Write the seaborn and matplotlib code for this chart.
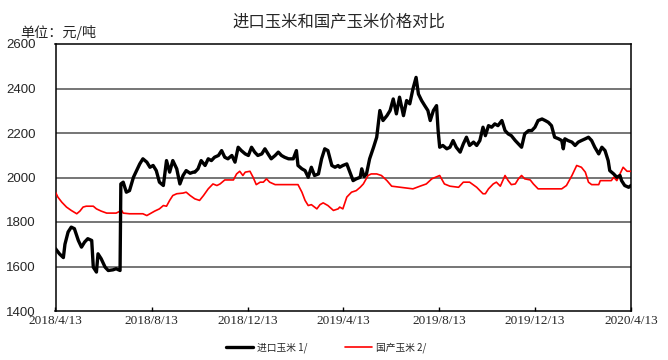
import matplotlib
matplotlib.use("Agg")
import matplotlib.pyplot as plt
import seaborn as sns
import pandas as pd

# ---------------- data ----------------
title = "进口玉米和国产玉米价格对比"
unit_label = "单位：元/吨"
series_names = ["进口玉米 1/", "国产玉米 2/"]

import_dates = [
    "2018-04-13", "2018-04-18", "2018-04-23", "2018-04-25", "2018-04-29", "2018-05-03", "2018-05-07",
    "2018-05-12", "2018-05-16", "2018-05-20", "2018-05-24", "2018-05-29", "2018-05-31", "2018-06-04",
    "2018-06-06", "2018-06-10", "2018-06-15", "2018-06-19", "2018-06-25", "2018-06-29", "2018-07-04",
    "2018-07-05", "2018-07-08", "2018-07-12", "2018-07-16", "2018-07-21", "2018-07-25", "2018-07-29",
    "2018-08-02", "2018-08-07", "2018-08-11", "2018-08-15", "2018-08-19", "2018-08-23", "2018-08-28",
    "2018-09-01", "2018-09-05", "2018-09-09", "2018-09-14", "2018-09-18", "2018-09-22", "2018-09-26",
    "2018-10-01", "2018-10-05",
    "2018-10-07", "2018-10-11", "2018-10-15", "2018-10-20", "2018-10-24", "2018-10-28", "2018-11-01",
    "2018-11-06", "2018-11-10", "2018-11-14", "2018-11-18", "2018-11-23", "2018-11-27", "2018-12-01",
    "2018-12-05", "2018-12-10", "2018-12-14", "2018-12-18", "2018-12-22", "2018-12-26", "2018-12-31",
    "2019-01-04", "2019-01-08", "2019-01-12", "2019-01-17", "2019-01-21", "2019-01-25", "2019-01-29",
    "2019-02-03", "2019-02-09", "2019-02-13", "2019-02-15", "2019-02-20", "2019-02-24", "2019-02-28",
    "2019-03-04", "2019-03-08", "2019-03-13", "2019-03-17", "2019-03-21", "2019-03-25", "2019-03-30",
    "2019-04-03", "2019-04-07",
    "2019-04-09", "2019-04-13", "2019-04-18", "2019-04-22", "2019-04-26", "2019-04-30", "2019-05-05",
    "2019-05-07", "2019-05-10", "2019-05-13", "2019-05-17", "2019-05-22", "2019-05-26", "2019-05-30",
    "2019-06-03", "2019-06-08", "2019-06-12", "2019-06-16", "2019-06-20", "2019-06-24", "2019-06-29",
    "2019-07-03", "2019-07-07", "2019-07-11", "2019-07-15", "2019-07-18", "2019-07-22", "2019-07-26",
    "2019-07-30", "2019-08-02", "2019-08-06", "2019-08-10", "2019-08-12", "2019-08-14", "2019-08-18",
    "2019-08-23", "2019-08-27", "2019-08-31", "2019-09-04", "2019-09-09", "2019-09-13", "2019-09-17",
    "2019-09-21", "2019-09-26", "2019-09-30", "2019-10-04", "2019-10-08",
    "2019-10-11", "2019-10-15", "2019-10-19", "2019-10-23", "2019-10-27", "2019-11-01", "2019-11-05",
    "2019-11-09", "2019-11-13", "2019-11-18", "2019-11-22", "2019-11-26", "2019-11-30", "2019-12-05",
    "2019-12-09", "2019-12-13", "2019-12-17", "2019-12-22", "2019-12-26", "2019-12-30", "2020-01-03",
    "2020-01-07", "2020-01-12", "2020-01-16", "2020-01-18", "2020-01-20", "2020-01-24", "2020-01-29",
    "2020-02-02", "2020-02-06", "2020-02-10", "2020-02-15", "2020-02-19", "2020-02-23", "2020-02-27",
    "2020-03-03", "2020-03-07", "2020-03-11", "2020-03-15", "2020-03-17", "2020-03-22", "2020-03-26",
    "2020-03-30", "2020-04-01", "2020-04-05", "2020-04-10", "2020-04-13",
]
import_price = [
    1680, 1657, 1640, 1700, 1755, 1777, 1770,
    1717, 1687, 1710, 1725, 1717, 1597, 1575,
    1657, 1635, 1597, 1582, 1585, 1590, 1582,
    1971, 1979, 1934, 1941, 2001, 2031, 2061,
    2084, 2069, 2046, 2054, 2031, 1979, 1964,
    2076, 2024, 2076, 2039, 1971, 2009, 2031,
    2019, 2024,
    2024, 2039, 2076, 2054, 2084, 2076, 2091,
    2099, 2121, 2091, 2084, 2099, 2069, 2136,
    2121, 2106, 2099, 2136, 2114, 2099, 2106,
    2129, 2106, 2084, 2099, 2114, 2099, 2091,
    2084, 2084, 2121, 2054, 2039, 2031, 2001,
    2046, 2009, 2016, 2084, 2129, 2121, 2054,
    2046, 2054,
    2046, 2054, 2061, 2024, 1986, 1994, 2001,
    2039, 2004, 2016, 2084, 2136, 2181, 2301,
    2256, 2278, 2301, 2353, 2286, 2361, 2278,
    2346, 2331, 2398, 2450, 2375, 2346, 2323,
    2301, 2256, 2301, 2323, 2211, 2136, 2144,
    2129, 2136, 2166, 2136, 2114, 2151, 2181,
    2144, 2159, 2144, 2166, 2226,
    2188, 2233, 2226, 2241, 2233, 2256, 2211,
    2196, 2188, 2166, 2151, 2136, 2196, 2211,
    2211, 2226, 2256, 2263, 2256, 2248, 2233,
    2181, 2174, 2166, 2129, 2174, 2166, 2159,
    2144, 2159, 2166, 2174, 2181, 2166, 2136,
    2106, 2136, 2121, 2076, 2031, 2016, 2001,
    2009, 1986, 1964, 1956, 1964,
]

domestic_dates = [
    "2018-04-13", "2018-04-16", "2018-04-21", "2018-04-27", "2018-05-03", "2018-05-10", "2018-05-14",
    "2018-05-18", "2018-05-22", "2018-05-31", "2018-06-04", "2018-06-10", "2018-06-17", "2018-06-29",
    "2018-07-06", "2018-07-08", "2018-07-16", "2018-08-02", "2018-08-07", "2018-08-11", "2018-08-17",
    "2018-08-23", "2018-08-28", "2018-09-01", "2018-09-05", "2018-09-09", "2018-09-14", "2018-09-22",
    "2018-09-26", "2018-10-01",
    "2018-10-07", "2018-10-13", "2018-10-18", "2018-10-24", "2018-10-30", "2018-11-04", "2018-11-08",
    "2018-11-14", "2018-11-25", "2018-11-29", "2018-12-03", "2018-12-07", "2018-12-10", "2018-12-16",
    "2018-12-20", "2018-12-24", "2018-12-29", "2019-01-02", "2019-01-06", "2019-01-10", "2019-01-17",
    "2019-02-15", "2019-02-20", "2019-02-24", "2019-02-28", "2019-03-04", "2019-03-11", "2019-03-15",
    "2019-03-19", "2019-03-25", "2019-04-01", "2019-04-07",
    "2019-04-09", "2019-04-13", "2019-04-18", "2019-04-24", "2019-04-30", "2019-05-05", "2019-05-09",
    "2019-05-15", "2019-05-19", "2019-05-26", "2019-06-01", "2019-06-08", "2019-06-14", "2019-07-11",
    "2019-07-20", "2019-07-28", "2019-08-04", "2019-08-14", "2019-08-20", "2019-08-27", "2019-09-07",
    "2019-09-13", "2019-09-21", "2019-09-30", "2019-10-08",
    "2019-10-11", "2019-10-15", "2019-10-21", "2019-10-25", "2019-10-30", "2019-11-05", "2019-11-09",
    "2019-11-13", "2019-11-18", "2019-11-22", "2019-11-26", "2019-11-30", "2019-12-07", "2019-12-11",
    "2019-12-17", "2020-01-16", "2020-01-22", "2020-01-29", "2020-02-04", "2020-02-10", "2020-02-15",
    "2020-02-19", "2020-02-23", "2020-03-03", "2020-03-05", "2020-03-19", "2020-03-22", "2020-03-26",
    "2020-03-30", "2020-04-03", "2020-04-08", "2020-04-13",
]
domestic_price = [
    1934, 1912, 1889, 1867, 1852, 1837, 1849,
    1867, 1871, 1871, 1859, 1849, 1840, 1840,
    1852, 1840, 1837, 1837, 1829, 1837, 1849,
    1859, 1874, 1871, 1897, 1919, 1927, 1930,
    1934, 1919,
    1904, 1897, 1919, 1949, 1971, 1964, 1971,
    1989, 1989, 2016, 2028, 2009, 2024, 2028,
    2001, 1968, 1979, 1979, 1994, 1979, 1968,
    1968, 1934, 1897, 1874, 1878, 1859, 1878,
    1886, 1874, 1852, 1859,
    1867, 1859, 1912, 1934, 1941, 1956, 1971,
    2009, 2016, 2016, 2009, 1986, 1961, 1949,
    1961, 1971, 1994, 2009, 1971, 1961, 1956,
    1979, 1979, 1956, 1927,
    1927, 1949, 1971, 1979, 1961, 2009, 1986,
    1968, 1971, 1994, 2009, 1994, 1989, 1971,
    1949, 1949, 1964, 2009, 2054, 2046, 2024,
    1979, 1968, 1968, 1986, 1986, 2001, 1986,
    2016, 2046, 2028, 2028,
]

x_tick_dates = ["2018-04-13", "2018-08-13", "2018-12-13", "2019-04-13",
                "2019-08-13", "2019-12-13", "2020-04-13"]
x_tick_labels = ["2018/4/13", "2018/8/13", "2018/12/13", "2019/4/13",
                 "2019/8/13", "2019/12/13", "2020/4/13"]
y_ticks = [1400, 1600, 1800, 2000, 2200, 2400, 2600]

# ---------------- plot ----------------
sns.set_theme(style="white")
plt.rcParams["font.family"] = ["Noto Sans CJK SC", "DejaVu Sans"]

df_imp = pd.DataFrame({"date": pd.to_datetime(import_dates), "price": import_price})
df_dom = pd.DataFrame({"date": pd.to_datetime(domestic_dates), "price": domestic_price})

fig = plt.figure(figsize=(6.68, 3.6), dpi=100)
ax = fig.add_axes([55.5 / 668, 1 - 311 / 360, (631 - 55.5) / 668, (311 - 44) / 360])

ax.set_ylim(1400, 2600)
ax.set_yticks(y_ticks)
for v in y_ticks[1:-1]:
    ax.axhline(v, color="#505050", lw=1.1, zorder=0)

sns.lineplot(data=df_dom, x="date", y="price", ax=ax, color="#ff0000", lw=1.2,
             label=series_names[1], zorder=3)
sns.lineplot(data=df_imp, x="date", y="price", ax=ax, color="black", lw=2.4,
             label=series_names[0], zorder=4)

ax.set_xlim(pd.Timestamp(x_tick_dates[0]), pd.Timestamp(x_tick_dates[-1]))
ax.set_xticks(pd.to_datetime(x_tick_dates))
ax.set_xticklabels(x_tick_labels, fontfamily="Liberation Serif", fontsize=9.5)
ax.set_yticklabels([str(v) for v in y_ticks],
                   fontfamily=["Liberation Sans Narrow", "Liberation Sans"], fontsize=9.5)
ax.tick_params(axis="x", direction="in", length=3, width=1, color="black", pad=3,
               bottom=True)
ax.tick_params(axis="y", length=0, pad=14)
ax.set_xlabel("")
ax.set_ylabel("")
for s in ax.spines.values():
    s.set_color("black")
    s.set_linewidth(1.1)

ax.get_legend().remove()
handles, labels = ax.get_legend_handles_labels()
order = [labels.index(series_names[0]), labels.index(series_names[1])]
fig.legend([handles[i] for i in order], [labels[i] for i in order],
           loc="center", bbox_to_anchor=(326 / 668, 1 - 348 / 360), ncol=2,
           frameon=False, fontsize=7, handlelength=2.8, handletextpad=0.4,
           columnspacing=3.8)

fig.text(339 / 668, 1 - 22 / 360, title, ha="center", va="center", fontsize=11.8)
fig.text(20 / 668, 1 - 33 / 360, unit_label, ha="left", va="center", fontsize=10.2)

fig.savefig("out.png", dpi=100)
